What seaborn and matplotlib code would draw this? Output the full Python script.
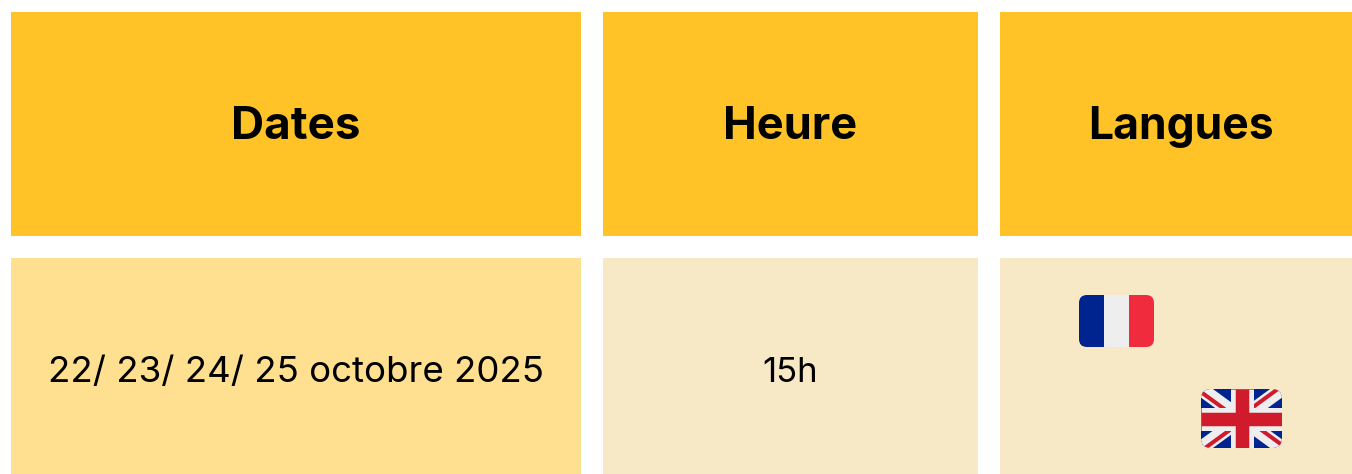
import seaborn as sns
import matplotlib
matplotlib.use("Agg")
import matplotlib.pyplot as plt
from matplotlib.patches import FancyBboxPatch, Rectangle

headers = ["Dates", "Heure", "Langues"]
row_values = ["22/ 23/ 24/ 25 octobre 2025", "15h", ""]
header_sizes = [33, 32.5, 32]
value_sizes = [26.4, 25, 25]
col_spans = [(11, 581), (603, 978), (1000, 1352)]
row_spans = [(12, 236), (258, 474)]
header_color = "#FFC328"
date_color = "#FEE090"
cell_color = "#F7E8C6"
blue, white, fr_red, uk_red = "#00248F", "#EEEEEE", "#EF2B3D", "#CF1B2B"

W, H = 1352, 474
sns.set_theme(style="white")
plt.rcParams['font.family'] = ['Inter', 'DejaVu Sans']
fig = plt.figure(figsize=(W/100, H/100), dpi=100)
ax = fig.add_axes([0, 0, 1, 1])
ax.set_xlim(0, W); ax.set_ylim(H, 0); ax.axis("off")

colors = [[header_color]*3, [date_color, cell_color, cell_color]]
for r, (y0, y1) in enumerate(row_spans):
    for c, (x0, x1) in enumerate(col_spans):
        ax.add_patch(Rectangle((x0, y0), x1-x0, y1-y0, fc=colors[r][c], ec="none"))
        cx = (x0+x1)/2
        if r == 0:
            ax.text(cx + (5 if c == 2 else 0), 139, headers[c], ha="center", va="baseline",
                    fontsize=header_sizes[c], fontweight="bold", color="black")
        elif row_values[c]:
            ax.text(cx, 382, row_values[c], ha="center", va="baseline", fontsize=value_sizes[c], color="black")

# French flag
clip = FancyBboxPatch((1087, 303), 59, 36, boxstyle="round,pad=8,rounding_size=8", fc="none", ec="none")
ax.add_patch(clip)
for x, w, col in [(1079, 25, blue), (1104, 25, white), (1129, 25, fr_red)]:
    p = Rectangle((x, 295), w, 52, fc=col, ec="none"); ax.add_patch(p); p.set_clip_path(clip)

# UK flag
clip2 = FancyBboxPatch((1211, 399), 61, 39, boxstyle="round,pad=10,rounding_size=10", fc="none", ec="none")
ax.add_patch(clip2)
x0, x1, y0, y1 = 1201, 1282, 389, 448
mx, my = 1241.5, 418.5
bg = Rectangle((x0, y0), x1-x0, y1-y0, fc=blue, ec="none", zorder=1.5)
ax.add_patch(bg); bg.set_clip_path(clip2)
segs = [((x0,y0),(x1,y1),14,white), ((x0,y1),(x1,y0),14,white),
        ((x0,y0+3),(mx,my+3),4,uk_red), ((x1,y0-3),(mx,my-3),4,uk_red),
        ((x1,y1-3),(mx,my-3),4,uk_red), ((x0,y1+3),(mx,my+3),4,uk_red),
        ((mx,y0),(mx,y1),23,white), ((x0,my),(x1,my),23,white),
        ((mx,y0),(mx,y1),13.5,uk_red), ((x0,my),(x1,my),13.5,uk_red)]
for a, b, lw, col in segs:
    l, = ax.plot([a[0],b[0]],[a[1],b[1]], color=col, lw=lw*0.72, solid_capstyle="butt", zorder=2)
    l.set_clip_path(clip2)

fig.savefig("out.png", dpi=100, facecolor="white")
